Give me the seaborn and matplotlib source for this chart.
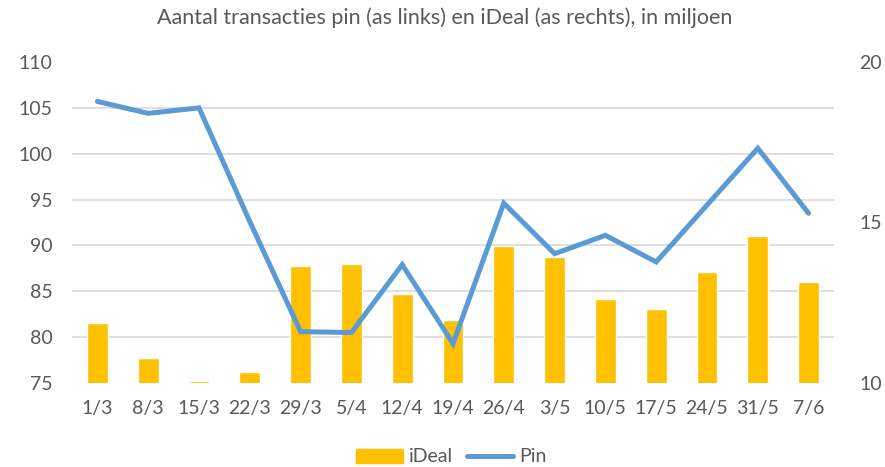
import numpy as np
import pandas as pd
import matplotlib
matplotlib.use("Agg")
import matplotlib.pyplot as plt
import seaborn as sns
from matplotlib.patches import Patch
from matplotlib.lines import Line2D

weeks = ["1/3", "8/3", "15/3", "22/3", "29/3", "5/4", "12/4", "19/4",
         "26/4", "3/5", "10/5", "17/5", "24/5", "31/5", "7/6"]
pin = [105.7, 104.4, 105.0, 92.6, 80.6, 80.5, 87.9, 79.3,
       94.6, 89.1, 91.1, 88.2, 94.4, 100.6, 93.5]
ideal = [11.86, 10.79, 10.06, 10.33, 13.65, 13.70, 12.77, 11.96,
         14.27, 13.92, 12.61, 12.31, 13.45, 14.58, 13.15]
left_ticks = [75, 80, 85, 90, 95, 100, 105, 110]
right_ticks = [10, 15, 20]
title = "Aantal transacties pin (as links) en iDeal (as rechts), in miljoen"

BAR = "#FFC000"
LINE = "#5B9BD5"
TXT = "#595959"
GRID = "#D9D9D9"

sns.set_theme(style="white")
plt.rcParams["font.family"] = ["Lato", "DejaVu Sans"]

df = pd.DataFrame({"week": weeks, "pin": pin, "ideal": ideal})
df["pos"] = np.arange(len(df))

fig = plt.figure(figsize=(8.85, 4.67), dpi=100)
ax = fig.add_axes([72/885, 1-383/467, (834-72)/885, (383-62)/467])
ax2 = ax.twinx()

# bars on right axis
sns.barplot(data=df, x="week", y="ideal", color=BAR, width=0.41,
            saturation=1, ax=ax2, zorder=2)
ax2.set_ylim(10, 20)
ax2.set_yticks(right_ticks)
ax2.set_yticks(np.linspace(10, 20, len(left_ticks)), minor=True)
ax2.grid(False)
ax2.grid(which="minor", axis="y", color=GRID, linewidth=1.2, zorder=0)
ax2.set_axisbelow(True)
ax2.tick_params(axis="y", which="both", length=0, pad=18, labelsize=14, labelcolor=TXT)
ax2.set_ylabel("")
ax2.set_xlabel("")

# line on left axis
sns.lineplot(data=df, x="pos", y="pin", color=LINE, linewidth=3.6, ax=ax,
             solid_capstyle="round", solid_joinstyle="miter")
ax.set_ylim(75, 110)
ax.set_yticks(left_ticks)
ax.set_xlim(-0.5, len(weeks) - 0.5)
ax.set_xticks(np.arange(len(weeks)))
ax.set_xticklabels(weeks)
ax.grid(False)
ax.tick_params(axis="y", length=0, pad=14, labelsize=14, labelcolor=TXT)
ax.tick_params(axis="x", length=0, pad=12, labelsize=14, labelcolor=TXT)
ax.set_xlabel("")
ax.set_ylabel("")
ax.set_zorder(ax2.get_zorder() + 1)
ax.patch.set_visible(False)

for a in (ax, ax2):
    for s in a.spines.values():
        s.set_visible(False)

fig.text(0.503, 1-18/467, title, ha="center", va="center", fontsize=15.5, color=TXT)

handles = [Patch(facecolor=BAR, edgecolor=BAR),
           Line2D([0], [0], color=LINE, linewidth=3.6, solid_capstyle="round")]
fig.legend(handles, ["iDeal", "Pin"], loc="center", bbox_to_anchor=(0.51, 1-457/467),
           ncol=2, frameon=False, fontsize=14, labelcolor=TXT, handlelength=2.4,
           handleheight=0.7, handletextpad=0.3, columnspacing=0.7)

fig.savefig("out.png", dpi=100)
